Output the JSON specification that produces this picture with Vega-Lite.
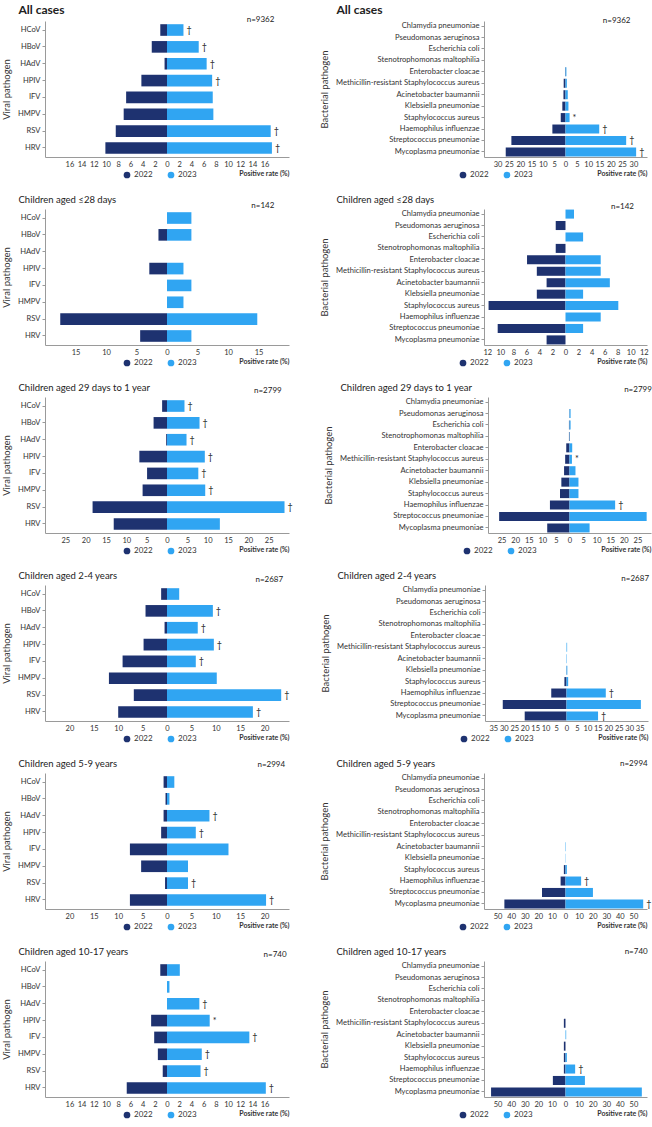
{
  "$schema": "https://vega.github.io/schema/vega-lite/v6.json",
  "background": "white",
  "padding": {"left": 1, "top": 4, "right": 0, "bottom": 0},
  "datasets": {
    "d": [
      {"p":"v1","g":"HCoV","year":"2022","rate":1.1},{"p":"v1","g":"HCoV","year":"2023","rate":2.7,"s":"†"},
      {"p":"v1","g":"HBoV","year":"2022","rate":2.5},{"p":"v1","g":"HBoV","year":"2023","rate":5.2,"s":"†"},
      {"p":"v1","g":"HAdV","year":"2022","rate":0.4},{"p":"v1","g":"HAdV","year":"2023","rate":6.5,"s":"†"},
      {"p":"v1","g":"HPIV","year":"2022","rate":4.2},{"p":"v1","g":"HPIV","year":"2023","rate":7.4,"s":"†"},
      {"p":"v1","g":"IFV","year":"2022","rate":6.7},{"p":"v1","g":"IFV","year":"2023","rate":7.5},
      {"p":"v1","g":"HMPV","year":"2022","rate":7.1},{"p":"v1","g":"HMPV","year":"2023","rate":7.6},
      {"p":"v1","g":"RSV","year":"2022","rate":8.4},{"p":"v1","g":"RSV","year":"2023","rate":17.0,"s":"†"},
      {"p":"v1","g":"HRV","year":"2022","rate":10.1},{"p":"v1","g":"HRV","year":"2023","rate":17.2,"s":"†"},

      {"p":"b1","g":"Enterobacter cloacae","year":"2022","rate":0.2},{"p":"b1","g":"Enterobacter cloacae","year":"2023","rate":0.4},
      {"p":"b1","g":"Methicillin-resistant Staphylococcus aureus","year":"2022","rate":0.8},{"p":"b1","g":"Methicillin-resistant Staphylococcus aureus","year":"2023","rate":0.6},
      {"p":"b1","g":"Acinetobacter baumannii","year":"2022","rate":0.9},{"p":"b1","g":"Acinetobacter baumannii","year":"2023","rate":1.0},
      {"p":"b1","g":"Klebsiella pneumoniae","year":"2022","rate":1.4},{"p":"b1","g":"Klebsiella pneumoniae","year":"2023","rate":1.3},
      {"p":"b1","g":"Staphylococcus aureus","year":"2022","rate":2.1},{"p":"b1","g":"Staphylococcus aureus","year":"2023","rate":1.8,"s":"*"},
      {"p":"b1","g":"Haemophilus influenzae","year":"2022","rate":5.8},{"p":"b1","g":"Haemophilus influenzae","year":"2023","rate":14.9,"s":"†"},
      {"p":"b1","g":"Streptococcus pneumoniae","year":"2022","rate":23.9},{"p":"b1","g":"Streptococcus pneumoniae","year":"2023","rate":26.8,"s":"†"},
      {"p":"b1","g":"Mycoplasma pneumoniae","year":"2022","rate":26.4},{"p":"b1","g":"Mycoplasma pneumoniae","year":"2023","rate":31.2,"s":"†"},

      {"p":"v2","g":"HCoV","year":"2023","rate":4.0},
      {"p":"v2","g":"HBoV","year":"2022","rate":1.4},{"p":"v2","g":"HBoV","year":"2023","rate":4.0},
      {"p":"v2","g":"HPIV","year":"2022","rate":2.9},{"p":"v2","g":"HPIV","year":"2023","rate":2.7},
      {"p":"v2","g":"IFV","year":"2023","rate":4.0},
      {"p":"v2","g":"HMPV","year":"2023","rate":2.7},
      {"p":"v2","g":"RSV","year":"2022","rate":17.5},{"p":"v2","g":"RSV","year":"2023","rate":14.8},
      {"p":"v2","g":"HRV","year":"2022","rate":4.4},{"p":"v2","g":"HRV","year":"2023","rate":4.0},

      {"p":"b2","g":"Chlamydia pneumoniae","year":"2023","rate":1.3},
      {"p":"b2","g":"Pseudomonas aeruginosa","year":"2022","rate":1.5},
      {"p":"b2","g":"Escherichia coli","year":"2023","rate":2.7},
      {"p":"b2","g":"Stenotrophomonas maltophilia","year":"2022","rate":1.5},
      {"p":"b2","g":"Enterobacter cloacae","year":"2022","rate":5.9},{"p":"b2","g":"Enterobacter cloacae","year":"2023","rate":5.4},
      {"p":"b2","g":"Methicillin-resistant Staphylococcus aureus","year":"2022","rate":4.4},{"p":"b2","g":"Methicillin-resistant Staphylococcus aureus","year":"2023","rate":5.4},
      {"p":"b2","g":"Acinetobacter baumannii","year":"2022","rate":2.9},{"p":"b2","g":"Acinetobacter baumannii","year":"2023","rate":6.8},
      {"p":"b2","g":"Klebsiella pneumoniae","year":"2022","rate":4.4},{"p":"b2","g":"Klebsiella pneumoniae","year":"2023","rate":2.7},
      {"p":"b2","g":"Staphylococcus aureus","year":"2022","rate":11.8},{"p":"b2","g":"Staphylococcus aureus","year":"2023","rate":8.1},
      {"p":"b2","g":"Haemophilus influenzae","year":"2023","rate":5.4},
      {"p":"b2","g":"Streptococcus pneumoniae","year":"2022","rate":10.4},{"p":"b2","g":"Streptococcus pneumoniae","year":"2023","rate":2.7},
      {"p":"b2","g":"Mycoplasma pneumoniae","year":"2022","rate":2.9},

      {"p":"v3","g":"HCoV","year":"2022","rate":1.2},{"p":"v3","g":"HCoV","year":"2023","rate":4.3,"s":"†"},
      {"p":"v3","g":"HBoV","year":"2022","rate":3.3},{"p":"v3","g":"HBoV","year":"2023","rate":8.0,"s":"†"},
      {"p":"v3","g":"HAdV","year":"2022","rate":0.2},{"p":"v3","g":"HAdV","year":"2023","rate":4.8,"s":"†"},
      {"p":"v3","g":"HPIV","year":"2022","rate":6.8},{"p":"v3","g":"HPIV","year":"2023","rate":9.3,"s":"†"},
      {"p":"v3","g":"IFV","year":"2022","rate":4.9},{"p":"v3","g":"IFV","year":"2023","rate":7.7,"s":"†"},
      {"p":"v3","g":"HMPV","year":"2022","rate":6.0},{"p":"v3","g":"HMPV","year":"2023","rate":9.4,"s":"†"},
      {"p":"v3","g":"RSV","year":"2022","rate":18.3},{"p":"v3","g":"RSV","year":"2023","rate":28.9,"s":"†"},
      {"p":"v3","g":"HRV","year":"2022","rate":13.1},{"p":"v3","g":"HRV","year":"2023","rate":13.0},

      {"p":"b3","g":"Pseudomonas aeruginosa","year":"2022","rate":0.1},{"p":"b3","g":"Pseudomonas aeruginosa","year":"2023","rate":0.4},
      {"p":"b3","g":"Escherichia coli","year":"2022","rate":0.2},{"p":"b3","g":"Escherichia coli","year":"2023","rate":0.4},
      {"p":"b3","g":"Stenotrophomonas maltophilia","year":"2022","rate":0.2},{"p":"b3","g":"Stenotrophomonas maltophilia","year":"2023","rate":0.1},
      {"p":"b3","g":"Enterobacter cloacae","year":"2022","rate":1.2},{"p":"b3","g":"Enterobacter cloacae","year":"2023","rate":1.0},
      {"p":"b3","g":"Methicillin-resistant Staphylococcus aureus","year":"2022","rate":1.6},{"p":"b3","g":"Methicillin-resistant Staphylococcus aureus","year":"2023","rate":0.9,"s":"*"},
      {"p":"b3","g":"Acinetobacter baumannii","year":"2022","rate":2.0},{"p":"b3","g":"Acinetobacter baumannii","year":"2023","rate":2.2},
      {"p":"b3","g":"Klebsiella pneumoniae","year":"2022","rate":3.0},{"p":"b3","g":"Klebsiella pneumoniae","year":"2023","rate":3.3},
      {"p":"b3","g":"Staphylococcus aureus","year":"2022","rate":3.5},{"p":"b3","g":"Staphylococcus aureus","year":"2023","rate":3.3},
      {"p":"b3","g":"Haemophilus influenzae","year":"2022","rate":7.2},{"p":"b3","g":"Haemophilus influenzae","year":"2023","rate":16.8,"s":"†"},
      {"p":"b3","g":"Streptococcus pneumoniae","year":"2022","rate":25.9},{"p":"b3","g":"Streptococcus pneumoniae","year":"2023","rate":28.4},
      {"p":"b3","g":"Mycoplasma pneumoniae","year":"2022","rate":8.2},{"p":"b3","g":"Mycoplasma pneumoniae","year":"2023","rate":7.4},

      {"p":"v4","g":"HCoV","year":"2022","rate":1.2},{"p":"v4","g":"HCoV","year":"2023","rate":2.5},
      {"p":"v4","g":"HBoV","year":"2022","rate":4.4},{"p":"v4","g":"HBoV","year":"2023","rate":9.4,"s":"†"},
      {"p":"v4","g":"HAdV","year":"2022","rate":0.5},{"p":"v4","g":"HAdV","year":"2023","rate":6.3,"s":"†"},
      {"p":"v4","g":"HPIV","year":"2022","rate":4.8},{"p":"v4","g":"HPIV","year":"2023","rate":9.6,"s":"†"},
      {"p":"v4","g":"IFV","year":"2022","rate":9.1},{"p":"v4","g":"IFV","year":"2023","rate":5.9,"s":"†"},
      {"p":"v4","g":"HMPV","year":"2022","rate":11.9},{"p":"v4","g":"HMPV","year":"2023","rate":10.2},
      {"p":"v4","g":"RSV","year":"2022","rate":6.8},{"p":"v4","g":"RSV","year":"2023","rate":23.4,"s":"†"},
      {"p":"v4","g":"HRV","year":"2022","rate":10.0},{"p":"v4","g":"HRV","year":"2023","rate":17.6,"s":"†"},

      {"p":"b4","g":"Methicillin-resistant Staphylococcus aureus","year":"2023","rate":0.3},
      {"p":"b4","g":"Acinetobacter baumannii","year":"2023","rate":0.2},
      {"p":"b4","g":"Klebsiella pneumoniae","year":"2022","rate":0.1},{"p":"b4","g":"Klebsiella pneumoniae","year":"2023","rate":0.4},
      {"p":"b4","g":"Staphylococcus aureus","year":"2022","rate":1.0},{"p":"b4","g":"Staphylococcus aureus","year":"2023","rate":0.8},
      {"p":"b4","g":"Haemophilus influenzae","year":"2022","rate":7.3},{"p":"b4","g":"Haemophilus influenzae","year":"2023","rate":18.8,"s":"†"},
      {"p":"b4","g":"Streptococcus pneumoniae","year":"2022","rate":30.5},{"p":"b4","g":"Streptococcus pneumoniae","year":"2023","rate":35.6},
      {"p":"b4","g":"Mycoplasma pneumoniae","year":"2022","rate":20.0},{"p":"b4","g":"Mycoplasma pneumoniae","year":"2023","rate":15.1,"s":"†"},

      {"p":"v5","g":"HCoV","year":"2022","rate":0.7},{"p":"v5","g":"HCoV","year":"2023","rate":1.5},
      {"p":"v5","g":"HBoV","year":"2022","rate":0.3},{"p":"v5","g":"HBoV","year":"2023","rate":0.5},
      {"p":"v5","g":"HAdV","year":"2022","rate":0.7},{"p":"v5","g":"HAdV","year":"2023","rate":8.7,"s":"†"},
      {"p":"v5","g":"HPIV","year":"2022","rate":1.2},{"p":"v5","g":"HPIV","year":"2023","rate":5.9,"s":"†"},
      {"p":"v5","g":"IFV","year":"2022","rate":7.6},{"p":"v5","g":"IFV","year":"2023","rate":12.6},
      {"p":"v5","g":"HMPV","year":"2022","rate":5.3},{"p":"v5","g":"HMPV","year":"2023","rate":4.3},
      {"p":"v5","g":"RSV","year":"2022","rate":0.4},{"p":"v5","g":"RSV","year":"2023","rate":4.3,"s":"†"},
      {"p":"v5","g":"HRV","year":"2022","rate":7.6},{"p":"v5","g":"HRV","year":"2023","rate":20.3,"s":"†"},

      {"p":"b5","g":"Acinetobacter baumannii","year":"2023","rate":0.3},
      {"p":"b5","g":"Klebsiella pneumoniae","year":"2023","rate":0.2},
      {"p":"b5","g":"Staphylococcus aureus","year":"2022","rate":1.2},{"p":"b5","g":"Staphylococcus aureus","year":"2023","rate":1.0},
      {"p":"b5","g":"Haemophilus influenzae","year":"2022","rate":3.6},{"p":"b5","g":"Haemophilus influenzae","year":"2023","rate":11.5,"s":"†"},
      {"p":"b5","g":"Streptococcus pneumoniae","year":"2022","rate":17.3},{"p":"b5","g":"Streptococcus pneumoniae","year":"2023","rate":20.2},
      {"p":"b5","g":"Mycoplasma pneumoniae","year":"2022","rate":45.0},{"p":"b5","g":"Mycoplasma pneumoniae","year":"2023","rate":57.2,"s":"†"},

      {"p":"v6","g":"HCoV","year":"2022","rate":1.1},{"p":"v6","g":"HCoV","year":"2023","rate":2.1},
      {"p":"v6","g":"HBoV","year":"2023","rate":0.4},
      {"p":"v6","g":"HAdV","year":"2023","rate":5.3,"s":"†"},
      {"p":"v6","g":"HPIV","year":"2022","rate":2.6},{"p":"v6","g":"HPIV","year":"2023","rate":7.0,"s":"*"},
      {"p":"v6","g":"IFV","year":"2022","rate":2.1},{"p":"v6","g":"IFV","year":"2023","rate":13.5,"s":"†"},
      {"p":"v6","g":"HMPV","year":"2022","rate":1.5},{"p":"v6","g":"HMPV","year":"2023","rate":5.7,"s":"†"},
      {"p":"v6","g":"RSV","year":"2022","rate":0.7},{"p":"v6","g":"RSV","year":"2023","rate":5.5,"s":"†"},
      {"p":"v6","g":"HRV","year":"2022","rate":6.6},{"p":"v6","g":"HRV","year":"2023","rate":16.2,"s":"†"},

      {"p":"b6","g":"Methicillin-resistant Staphylococcus aureus","year":"2022","rate":1.2},
      {"p":"b6","g":"Acinetobacter baumannii","year":"2023","rate":0.5},
      {"p":"b6","g":"Klebsiella pneumoniae","year":"2022","rate":1.2},
      {"p":"b6","g":"Staphylococcus aureus","year":"2022","rate":1.2},{"p":"b6","g":"Staphylococcus aureus","year":"2023","rate":1.0},
      {"p":"b6","g":"Haemophilus influenzae","year":"2022","rate":1.2},{"p":"b6","g":"Haemophilus influenzae","year":"2023","rate":7.1,"s":"†"},
      {"p":"b6","g":"Streptococcus pneumoniae","year":"2022","rate":9.3},{"p":"b6","g":"Streptococcus pneumoniae","year":"2023","rate":14.3},
      {"p":"b6","g":"Mycoplasma pneumoniae","year":"2022","rate":54.8},{"p":"b6","g":"Mycoplasma pneumoniae","year":"2023","rate":56.2}
    ],
    "ns": [
      {"p":"v1","n":"n=9362"},{"p":"b1","n":"n=9362"},
      {"p":"v2","n":"n=142"},{"p":"b2","n":"n=142"},
      {"p":"v3","n":"n=2799"},{"p":"b3","n":"n=2799"},
      {"p":"v4","n":"n=2687"},{"p":"b4","n":"n=2687"},
      {"p":"v5","n":"n=2994"},{"p":"b5","n":"n=2994"},
      {"p":"v6","n":"n=740"},{"p":"b6","n":"n=740"}
    ]
  },
  "data": {"name": "d"},
  "spacing": 16,
  "resolve": {"scale": {"color": "independent"}, "legend": {"color": "independent"}},
  "vconcat": [
    {"spacing": 30, "resolve": {"scale": {"color": "independent"}, "legend": {"color": "independent"}}, "hconcat": [
      {"width": 244, "height": 136, "title": {"text": "All cases", "fontSize": 12, "fontWeight": "bold", "offset": -1},
       "transform": [{"filter": "datum.p == 'v1'"}],
       "encoding": {"y": {"field": "g", "type": "nominal", "title": "Viral pathogen", "scale": {"domain": ["HCoV","HBoV","HAdV","HPIV","IFV","HMPV","RSV","HRV"], "paddingInner": 0.31, "paddingOuter": 0.19}}},
       "layer": [
         {"transform": [{"filter": "datum.year == '2022'"}], "mark": "bar", "encoding": {"x": {"field": "rate", "type": "quantitative", "scale": {"domain": [-20, 20], "reverse": true}, "axis": null}, "color": {"field": "year", "type": "nominal", "scale": {"domain": ["2022","2023"], "range": ["#1e3270","#30a5f2"]}, "legend": {"orient": "none", "legendX": 78, "legendY": 150, "direction": "horizontal", "title": null}}}},
         {"transform": [{"filter": "datum.year == '2023'"}], "mark": "bar", "encoding": {"x": {"field": "rate", "type": "quantitative", "scale": {"domain": [-20, 20]}, "axis": {"values": [-16,-14,-12,-10,-8,-6,-4,-2,0,2,4,6,8,10,12,14,16], "labelExpr": "abs(datum.value)", "title": "Positive rate (%)"}}, "color": {"field": "year", "type": "nominal", "scale": {"domain": ["2022","2023"], "range": ["#1e3270","#30a5f2"]}, "legend": {"orient": "none", "legendX": 78, "legendY": 150, "direction": "horizontal", "title": null}}}},
         {"transform": [{"filter": "datum.year == '2023' && datum.s"}], "mark": {"type": "text", "align": "left", "dx": 3, "fontSize": 9}, "encoding": {"x": {"field": "rate", "type": "quantitative", "scale": {"domain": [-20, 20]}, "axis": null}, "text": {"field": "s"}}},
         {"data": {"name": "ns"}, "transform": [{"filter": "datum.p == 'v1'"}], "mark": {"type": "text", "align": "right", "dy": -10, "fontSize": 8}, "encoding": {"x": {"datum": 17.6, "type": "quantitative", "scale": {"domain": [-20, 20]}, "axis": null}, "y": {"datum": "HCoV"}, "text": {"field": "n"}}}
       ],
       "resolve": {"scale": {"x": "independent"}}},
      {"width": 163, "height": 136, "title": {"text": "All cases", "fontSize": 12, "fontWeight": "bold", "offset": 0},
       "transform": [{"filter": "datum.p == 'b1'"}],
       "encoding": {"y": {"field": "g", "type": "nominal", "title": "Bacterial pathogen", "scale": {"domain": ["Chlamydia pneumoniae","Pseudomonas aeruginosa","Escherichia coli","Stenotrophomonas maltophilia","Enterobacter cloacae","Methicillin-resistant Staphylococcus aureus","Acinetobacter baumannii","Klebsiella pneumoniae","Staphylococcus aureus","Haemophilus influenzae","Streptococcus pneumoniae","Mycoplasma pneumoniae"], "paddingInner": 0.21, "paddingOuter": 0.05}}},
       "layer": [
         {"transform": [{"filter": "datum.year == '2022'"}], "mark": "bar", "encoding": {"x": {"field": "rate", "type": "quantitative", "scale": {"domain": [-36, 36], "reverse": true}, "axis": null}, "color": {"field": "year", "type": "nominal", "scale": {"domain": ["2022","2023"], "range": ["#1e3270","#30a5f2"]}, "legend": {"orient": "none", "legendX": -25, "legendY": 150, "direction": "horizontal", "title": null}}}},
         {"transform": [{"filter": "datum.year == '2023'"}], "mark": "bar", "encoding": {"x": {"field": "rate", "type": "quantitative", "scale": {"domain": [-36, 36]}, "axis": {"values": [-30,-25,-20,-15,-10,-5,0,5,10,15,20,25,30], "labelExpr": "abs(datum.value)", "title": "Positive rate (%)"}}, "color": {"field": "year", "type": "nominal", "scale": {"domain": ["2022","2023"], "range": ["#1e3270","#30a5f2"]}, "legend": {"orient": "none", "legendX": -25, "legendY": 150, "direction": "horizontal", "title": null}}}},
         {"transform": [{"filter": "datum.year == '2023' && datum.s"}], "mark": {"type": "text", "align": "left", "dx": 3, "fontSize": 9}, "encoding": {"x": {"field": "rate", "type": "quantitative", "scale": {"domain": [-36, 36]}, "axis": null}, "text": {"field": "s"}}},
         {"data": {"name": "ns"}, "transform": [{"filter": "datum.p == 'b1'"}], "mark": {"type": "text", "align": "right", "dy": -5, "fontSize": 8}, "encoding": {"x": {"datum": 28.7, "type": "quantitative", "scale": {"domain": [-36, 36]}, "axis": null}, "y": {"datum": "Chlamydia pneumoniae"}, "text": {"field": "n"}}}
       ],
       "resolve": {"scale": {"x": "independent"}}}
    ]},
    {"spacing": 30, "resolve": {"scale": {"color": "independent"}, "legend": {"color": "independent"}}, "hconcat": [
      {"width": 244, "height": 136, "title": {"text": "Children aged ≤28 days", "offset": -2.5},
       "transform": [{"filter": "datum.p == 'v2'"}],
       "encoding": {"y": {"field": "g", "type": "nominal", "title": "Viral pathogen", "scale": {"domain": ["HCoV","HBoV","HAdV","HPIV","IFV","HMPV","RSV","HRV"], "paddingInner": 0.31, "paddingOuter": 0.19}}},
       "layer": [
         {"transform": [{"filter": "datum.year == '2022'"}], "mark": "bar", "encoding": {"x": {"field": "rate", "type": "quantitative", "scale": {"domain": [-20, 20], "reverse": true}, "axis": null}, "color": {"field": "year", "type": "nominal", "scale": {"domain": ["2022","2023"], "range": ["#1e3270","#30a5f2"]}, "legend": {"orient": "none", "legendX": 78, "legendY": 150, "direction": "horizontal", "title": null}}}},
         {"transform": [{"filter": "datum.year == '2023'"}], "mark": "bar", "encoding": {"x": {"field": "rate", "type": "quantitative", "scale": {"domain": [-20, 20]}, "axis": {"values": [-15,-10,-5,0,5,10,15], "labelExpr": "abs(datum.value)", "title": "Positive rate (%)"}}, "color": {"field": "year", "type": "nominal", "scale": {"domain": ["2022","2023"], "range": ["#1e3270","#30a5f2"]}, "legend": {"orient": "none", "legendX": 78, "legendY": 150, "direction": "horizontal", "title": null}}}},
         {"transform": [{"filter": "datum.year == '2023' && datum.s"}], "mark": {"type": "text", "align": "left", "dx": 3, "fontSize": 9}, "encoding": {"x": {"field": "rate", "type": "quantitative", "scale": {"domain": [-20, 20]}, "axis": null}, "text": {"field": "s"}}},
         {"data": {"name": "ns"}, "transform": [{"filter": "datum.p == 'v2'"}], "mark": {"type": "text", "align": "right", "dy": -12, "fontSize": 8}, "encoding": {"x": {"datum": 17.6, "type": "quantitative", "scale": {"domain": [-20, 20]}, "axis": null}, "y": {"datum": "HCoV"}, "text": {"field": "n"}}}
       ],
       "resolve": {"scale": {"x": "independent"}}},
      {"width": 163, "height": 136, "title": {"text": "Children aged ≤28 days", "offset": -1.5},
       "transform": [{"filter": "datum.p == 'b2'"}],
       "encoding": {"y": {"field": "g", "type": "nominal", "title": "Bacterial pathogen", "scale": {"domain": ["Chlamydia pneumoniae","Pseudomonas aeruginosa","Escherichia coli","Stenotrophomonas maltophilia","Enterobacter cloacae","Methicillin-resistant Staphylococcus aureus","Acinetobacter baumannii","Klebsiella pneumoniae","Staphylococcus aureus","Haemophilus influenzae","Streptococcus pneumoniae","Mycoplasma pneumoniae"], "paddingInner": 0.21, "paddingOuter": 0.05}}},
       "layer": [
         {"transform": [{"filter": "datum.year == '2022'"}], "mark": "bar", "encoding": {"x": {"field": "rate", "type": "quantitative", "scale": {"domain": [-12.5, 12.5], "reverse": true}, "axis": null}, "color": {"field": "year", "type": "nominal", "scale": {"domain": ["2022","2023"], "range": ["#1e3270","#30a5f2"]}, "legend": {"orient": "none", "legendX": -25, "legendY": 150, "direction": "horizontal", "title": null}}}},
         {"transform": [{"filter": "datum.year == '2023'"}], "mark": "bar", "encoding": {"x": {"field": "rate", "type": "quantitative", "scale": {"domain": [-12.5, 12.5]}, "axis": {"values": [-12,-10,-8,-6,-4,-2,0,2,4,6,8,10,12], "labelExpr": "abs(datum.value)", "title": "Positive rate (%)"}}, "color": {"field": "year", "type": "nominal", "scale": {"domain": ["2022","2023"], "range": ["#1e3270","#30a5f2"]}, "legend": {"orient": "none", "legendX": -25, "legendY": 150, "direction": "horizontal", "title": null}}}},
         {"transform": [{"filter": "datum.year == '2023' && datum.s"}], "mark": {"type": "text", "align": "left", "dx": 3, "fontSize": 9}, "encoding": {"x": {"field": "rate", "type": "quantitative", "scale": {"domain": [-12.5, 12.5]}, "axis": null}, "text": {"field": "s"}}},
         {"data": {"name": "ns"}, "transform": [{"filter": "datum.p == 'b2'"}], "mark": {"type": "text", "align": "right", "dy": -7, "fontSize": 8}, "encoding": {"x": {"datum": 10.5, "type": "quantitative", "scale": {"domain": [-12.5, 12.5]}, "axis": null}, "y": {"datum": "Chlamydia pneumoniae"}, "text": {"field": "n"}}}
       ],
       "resolve": {"scale": {"x": "independent"}}}
    ]},
    {"spacing": 30, "resolve": {"scale": {"color": "independent"}, "legend": {"color": "independent"}}, "hconcat": [
      {"width": 244, "height": 136, "title": {"text": "Children aged 29 days to 1 year", "offset": -5.5},
       "transform": [{"filter": "datum.p == 'v3'"}],
       "encoding": {"y": {"field": "g", "type": "nominal", "title": "Viral pathogen", "scale": {"domain": ["HCoV","HBoV","HAdV","HPIV","IFV","HMPV","RSV","HRV"], "paddingInner": 0.31, "paddingOuter": 0.19}}},
       "layer": [
         {"transform": [{"filter": "datum.year == '2022'"}], "mark": "bar", "encoding": {"x": {"field": "rate", "type": "quantitative", "scale": {"domain": [-30, 30], "reverse": true}, "axis": null}, "color": {"field": "year", "type": "nominal", "scale": {"domain": ["2022","2023"], "range": ["#1e3270","#30a5f2"]}, "legend": {"orient": "none", "legendX": 78, "legendY": 150, "direction": "horizontal", "title": null}}}},
         {"transform": [{"filter": "datum.year == '2023'"}], "mark": "bar", "encoding": {"x": {"field": "rate", "type": "quantitative", "scale": {"domain": [-30, 30]}, "axis": {"values": [-25,-20,-15,-10,-5,0,5,10,15,20,25], "labelExpr": "abs(datum.value)", "title": "Positive rate (%)"}}, "color": {"field": "year", "type": "nominal", "scale": {"domain": ["2022","2023"], "range": ["#1e3270","#30a5f2"]}, "legend": {"orient": "none", "legendX": 78, "legendY": 150, "direction": "horizontal", "title": null}}}},
         {"transform": [{"filter": "datum.year == '2023' && datum.s"}], "mark": {"type": "text", "align": "left", "dx": 3, "fontSize": 9}, "encoding": {"x": {"field": "rate", "type": "quantitative", "scale": {"domain": [-30, 30]}, "axis": null}, "text": {"field": "s"}}},
         {"data": {"name": "ns"}, "transform": [{"filter": "datum.p == 'v3'"}], "mark": {"type": "text", "align": "right", "dy": -15, "fontSize": 8}, "encoding": {"x": {"datum": 28.2, "type": "quantitative", "scale": {"domain": [-30, 30]}, "axis": null}, "y": {"datum": "HCoV"}, "text": {"field": "n"}}}
       ],
       "resolve": {"scale": {"x": "independent"}}},
      {"width": 163, "height": 136, "title": {"text": "Children aged 29 days to 1 year", "offset": -6.5},
       "transform": [{"filter": "datum.p == 'b3'"}],
       "encoding": {"y": {"field": "g", "type": "nominal", "title": "Bacterial pathogen", "scale": {"domain": ["Chlamydia pneumoniae","Pseudomonas aeruginosa","Escherichia coli","Stenotrophomonas maltophilia","Enterobacter cloacae","Methicillin-resistant Staphylococcus aureus","Acinetobacter baumannii","Klebsiella pneumoniae","Staphylococcus aureus","Haemophilus influenzae","Streptococcus pneumoniae","Mycoplasma pneumoniae"], "paddingInner": 0.21, "paddingOuter": 0.05}}},
       "layer": [
         {"transform": [{"filter": "datum.year == '2022'"}], "mark": "bar", "encoding": {"x": {"field": "rate", "type": "quantitative", "scale": {"domain": [-30, 30], "reverse": true}, "axis": null}, "color": {"field": "year", "type": "nominal", "scale": {"domain": ["2022","2023"], "range": ["#1e3270","#30a5f2"]}, "legend": {"orient": "none", "legendX": -25, "legendY": 150, "direction": "horizontal", "title": null}}}},
         {"transform": [{"filter": "datum.year == '2023'"}], "mark": "bar", "encoding": {"x": {"field": "rate", "type": "quantitative", "scale": {"domain": [-30, 30]}, "axis": {"values": [-25,-20,-15,-10,-5,0,5,10,15,20,25], "labelExpr": "abs(datum.value)", "title": "Positive rate (%)"}}, "color": {"field": "year", "type": "nominal", "scale": {"domain": ["2022","2023"], "range": ["#1e3270","#30a5f2"]}, "legend": {"orient": "none", "legendX": -25, "legendY": 150, "direction": "horizontal", "title": null}}}},
         {"transform": [{"filter": "datum.year == '2023' && datum.s"}], "mark": {"type": "text", "align": "left", "dx": 3, "fontSize": 9}, "encoding": {"x": {"field": "rate", "type": "quantitative", "scale": {"domain": [-30, 30]}, "axis": null}, "text": {"field": "s"}}},
         {"data": {"name": "ns"}, "transform": [{"filter": "datum.p == 'b3'"}], "mark": {"type": "text", "align": "right", "dy": -12, "fontSize": 8}, "encoding": {"x": {"datum": 30.3, "type": "quantitative", "scale": {"domain": [-30, 30]}, "axis": null}, "y": {"datum": "Chlamydia pneumoniae"}, "text": {"field": "n"}}}
       ],
       "resolve": {"scale": {"x": "independent"}}}
    ]},
    {"spacing": 30, "resolve": {"scale": {"color": "independent"}, "legend": {"color": "independent"}}, "hconcat": [
      {"width": 244, "height": 136, "title": {"text": "Children aged 2-4 years", "offset": -4.5},
       "transform": [{"filter": "datum.p == 'v4'"}],
       "encoding": {"y": {"field": "g", "type": "nominal", "title": "Viral pathogen", "scale": {"domain": ["HCoV","HBoV","HAdV","HPIV","IFV","HMPV","RSV","HRV"], "paddingInner": 0.31, "paddingOuter": 0.19}}},
       "layer": [
         {"transform": [{"filter": "datum.year == '2022'"}], "mark": "bar", "encoding": {"x": {"field": "rate", "type": "quantitative", "scale": {"domain": [-25, 25], "reverse": true}, "axis": null}, "color": {"field": "year", "type": "nominal", "scale": {"domain": ["2022","2023"], "range": ["#1e3270","#30a5f2"]}, "legend": {"orient": "none", "legendX": 78, "legendY": 150, "direction": "horizontal", "title": null}}}},
         {"transform": [{"filter": "datum.year == '2023'"}], "mark": "bar", "encoding": {"x": {"field": "rate", "type": "quantitative", "scale": {"domain": [-25, 25]}, "axis": {"values": [-20,-15,-10,-5,0,5,10,15,20], "labelExpr": "abs(datum.value)", "title": "Positive rate (%)"}}, "color": {"field": "year", "type": "nominal", "scale": {"domain": ["2022","2023"], "range": ["#1e3270","#30a5f2"]}, "legend": {"orient": "none", "legendX": 78, "legendY": 150, "direction": "horizontal", "title": null}}}},
         {"transform": [{"filter": "datum.year == '2023' && datum.s"}], "mark": {"type": "text", "align": "left", "dx": 3, "fontSize": 9}, "encoding": {"x": {"field": "rate", "type": "quantitative", "scale": {"domain": [-25, 25]}, "axis": null}, "text": {"field": "s"}}},
         {"data": {"name": "ns"}, "transform": [{"filter": "datum.p == 'v4'"}], "mark": {"type": "text", "align": "right", "dy": -14, "fontSize": 8}, "encoding": {"x": {"datum": 23.8, "type": "quantitative", "scale": {"domain": [-25, 25]}, "axis": null}, "y": {"datum": "HCoV"}, "text": {"field": "n"}}}
       ],
       "resolve": {"scale": {"x": "independent"}}},
      {"width": 163, "height": 136, "title": {"text": "Children aged 2-4 years", "offset": -5.5},
       "transform": [{"filter": "datum.p == 'b4'"}],
       "encoding": {"y": {"field": "g", "type": "nominal", "title": "Bacterial pathogen", "scale": {"domain": ["Chlamydia pneumoniae","Pseudomonas aeruginosa","Escherichia coli","Stenotrophomonas maltophilia","Enterobacter cloacae","Methicillin-resistant Staphylococcus aureus","Acinetobacter baumannii","Klebsiella pneumoniae","Staphylococcus aureus","Haemophilus influenzae","Streptococcus pneumoniae","Mycoplasma pneumoniae"], "paddingInner": 0.21, "paddingOuter": 0.05}}},
       "layer": [
         {"transform": [{"filter": "datum.year == '2022'"}], "mark": "bar", "encoding": {"x": {"field": "rate", "type": "quantitative", "scale": {"domain": [-39, 39], "reverse": true}, "axis": null}, "color": {"field": "year", "type": "nominal", "scale": {"domain": ["2022","2023"], "range": ["#1e3270","#30a5f2"]}, "legend": {"orient": "none", "legendX": -25, "legendY": 150, "direction": "horizontal", "title": null}}}},
         {"transform": [{"filter": "datum.year == '2023'"}], "mark": "bar", "encoding": {"x": {"field": "rate", "type": "quantitative", "scale": {"domain": [-39, 39]}, "axis": {"values": [-35,-30,-25,-20,-15,-10,-5,0,5,10,15,20,25,30,35], "labelExpr": "abs(datum.value)", "title": "Positive rate (%)"}}, "color": {"field": "year", "type": "nominal", "scale": {"domain": ["2022","2023"], "range": ["#1e3270","#30a5f2"]}, "legend": {"orient": "none", "legendX": -25, "legendY": 150, "direction": "horizontal", "title": null}}}},
         {"transform": [{"filter": "datum.year == '2023' && datum.s"}], "mark": {"type": "text", "align": "left", "dx": 3, "fontSize": 9}, "encoding": {"x": {"field": "rate", "type": "quantitative", "scale": {"domain": [-39, 39]}, "axis": null}, "text": {"field": "s"}}},
         {"data": {"name": "ns"}, "transform": [{"filter": "datum.p == 'b4'"}], "mark": {"type": "text", "align": "right", "dy": -11, "fontSize": 8}, "encoding": {"x": {"datum": 39.5, "type": "quantitative", "scale": {"domain": [-39, 39]}, "axis": null}, "y": {"datum": "Chlamydia pneumoniae"}, "text": {"field": "n"}}}
       ],
       "resolve": {"scale": {"x": "independent"}}}
    ]},
    {"spacing": 30, "resolve": {"scale": {"color": "independent"}, "legend": {"color": "independent"}}, "hconcat": [
      {"width": 244, "height": 136, "title": {"text": "Children aged 5-9 years", "offset": -7.5},
       "transform": [{"filter": "datum.p == 'v5'"}],
       "encoding": {"y": {"field": "g", "type": "nominal", "title": "Viral pathogen", "scale": {"domain": ["HCoV","HBoV","HAdV","HPIV","IFV","HMPV","RSV","HRV"], "paddingInner": 0.31, "paddingOuter": 0.19}}},
       "layer": [
         {"transform": [{"filter": "datum.year == '2022'"}], "mark": "bar", "encoding": {"x": {"field": "rate", "type": "quantitative", "scale": {"domain": [-25, 25], "reverse": true}, "axis": null}, "color": {"field": "year", "type": "nominal", "scale": {"domain": ["2022","2023"], "range": ["#1e3270","#30a5f2"]}, "legend": {"orient": "none", "legendX": 78, "legendY": 150, "direction": "horizontal", "title": null}}}},
         {"transform": [{"filter": "datum.year == '2023'"}], "mark": "bar", "encoding": {"x": {"field": "rate", "type": "quantitative", "scale": {"domain": [-25, 25]}, "axis": {"values": [-20,-15,-10,-5,0,5,10,15,20], "labelExpr": "abs(datum.value)", "title": "Positive rate (%)"}}, "color": {"field": "year", "type": "nominal", "scale": {"domain": ["2022","2023"], "range": ["#1e3270","#30a5f2"]}, "legend": {"orient": "none", "legendX": 78, "legendY": 150, "direction": "horizontal", "title": null}}}},
         {"transform": [{"filter": "datum.year == '2023' && datum.s"}], "mark": {"type": "text", "align": "left", "dx": 3, "fontSize": 9}, "encoding": {"x": {"field": "rate", "type": "quantitative", "scale": {"domain": [-25, 25]}, "axis": null}, "text": {"field": "s"}}},
         {"data": {"name": "ns"}, "transform": [{"filter": "datum.p == 'v5'"}], "mark": {"type": "text", "align": "right", "dy": -17, "fontSize": 8}, "encoding": {"x": {"datum": 24.2, "type": "quantitative", "scale": {"domain": [-25, 25]}, "axis": null}, "y": {"datum": "HCoV"}, "text": {"field": "n"}}}
       ],
       "resolve": {"scale": {"x": "independent"}}},
      {"width": 163, "height": 136, "title": {"text": "Children aged 5-9 years", "offset": -8.5},
       "transform": [{"filter": "datum.p == 'b5'"}],
       "encoding": {"y": {"field": "g", "type": "nominal", "title": "Bacterial pathogen", "scale": {"domain": ["Chlamydia pneumoniae","Pseudomonas aeruginosa","Escherichia coli","Stenotrophomonas maltophilia","Enterobacter cloacae","Methicillin-resistant Staphylococcus aureus","Acinetobacter baumannii","Klebsiella pneumoniae","Staphylococcus aureus","Haemophilus influenzae","Streptococcus pneumoniae","Mycoplasma pneumoniae"], "paddingInner": 0.21, "paddingOuter": 0.05}}},
       "layer": [
         {"transform": [{"filter": "datum.year == '2022'"}], "mark": "bar", "encoding": {"x": {"field": "rate", "type": "quantitative", "scale": {"domain": [-60, 60], "reverse": true}, "axis": null}, "color": {"field": "year", "type": "nominal", "scale": {"domain": ["2022","2023"], "range": ["#1e3270","#30a5f2"]}, "legend": {"orient": "none", "legendX": -25, "legendY": 150, "direction": "horizontal", "title": null}}}},
         {"transform": [{"filter": "datum.year == '2023'"}], "mark": "bar", "encoding": {"x": {"field": "rate", "type": "quantitative", "scale": {"domain": [-60, 60]}, "axis": {"values": [-50,-40,-30,-20,-10,0,10,20,30,40,50], "labelExpr": "abs(datum.value)", "title": "Positive rate (%)"}}, "color": {"field": "year", "type": "nominal", "scale": {"domain": ["2022","2023"], "range": ["#1e3270","#30a5f2"]}, "legend": {"orient": "none", "legendX": -25, "legendY": 150, "direction": "horizontal", "title": null}}}},
         {"transform": [{"filter": "datum.year == '2023' && datum.s"}], "mark": {"type": "text", "align": "left", "dx": 3, "fontSize": 9}, "encoding": {"x": {"field": "rate", "type": "quantitative", "scale": {"domain": [-60, 60]}, "axis": null}, "text": {"field": "s"}}},
         {"data": {"name": "ns"}, "transform": [{"filter": "datum.p == 'b5'"}], "mark": {"type": "text", "align": "right", "dy": -14, "fontSize": 8}, "encoding": {"x": {"datum": 60.5, "type": "quantitative", "scale": {"domain": [-60, 60]}, "axis": null}, "y": {"datum": "Chlamydia pneumoniae"}, "text": {"field": "n"}}}
       ],
       "resolve": {"scale": {"x": "independent"}}}
    ]},
    {"spacing": 30, "resolve": {"scale": {"color": "independent"}, "legend": {"color": "independent"}}, "hconcat": [
      {"width": 244, "height": 136, "title": {"text": "Children aged 10-17 years", "offset": -5.5},
       "transform": [{"filter": "datum.p == 'v6'"}],
       "encoding": {"y": {"field": "g", "type": "nominal", "title": "Viral pathogen", "scale": {"domain": ["HCoV","HBoV","HAdV","HPIV","IFV","HMPV","RSV","HRV"], "paddingInner": 0.31, "paddingOuter": 0.19}}},
       "layer": [
         {"transform": [{"filter": "datum.year == '2022'"}], "mark": "bar", "encoding": {"x": {"field": "rate", "type": "quantitative", "scale": {"domain": [-20, 20], "reverse": true}, "axis": null}, "color": {"field": "year", "type": "nominal", "scale": {"domain": ["2022","2023"], "range": ["#1e3270","#30a5f2"]}, "legend": {"orient": "none", "legendX": 78, "legendY": 150, "direction": "horizontal", "title": null}}}},
         {"transform": [{"filter": "datum.year == '2023'"}], "mark": "bar", "encoding": {"x": {"field": "rate", "type": "quantitative", "scale": {"domain": [-20, 20]}, "axis": {"values": [-16,-14,-12,-10,-8,-6,-4,-2,0,2,4,6,8,10,12,14,16], "labelExpr": "abs(datum.value)", "title": "Positive rate (%)"}}, "color": {"field": "year", "type": "nominal", "scale": {"domain": ["2022","2023"], "range": ["#1e3270","#30a5f2"]}, "legend": {"orient": "none", "legendX": 78, "legendY": 150, "direction": "horizontal", "title": null}}}},
         {"transform": [{"filter": "datum.year == '2023' && datum.s"}], "mark": {"type": "text", "align": "left", "dx": 3, "fontSize": 9}, "encoding": {"x": {"field": "rate", "type": "quantitative", "scale": {"domain": [-20, 20]}, "axis": null}, "text": {"field": "s"}}},
         {"data": {"name": "ns"}, "transform": [{"filter": "datum.p == 'v6'"}], "mark": {"type": "text", "align": "right", "dy": -15, "fontSize": 8}, "encoding": {"x": {"datum": 19.6, "type": "quantitative", "scale": {"domain": [-20, 20]}, "axis": null}, "y": {"datum": "HCoV"}, "text": {"field": "n"}}}
       ],
       "resolve": {"scale": {"x": "independent"}}},
      {"width": 163, "height": 136, "title": {"text": "Children aged 10-17 years", "offset": -8.5},
       "transform": [{"filter": "datum.p == 'b6'"}],
       "encoding": {"y": {"field": "g", "type": "nominal", "title": "Bacterial pathogen", "scale": {"domain": ["Chlamydia pneumoniae","Pseudomonas aeruginosa","Escherichia coli","Stenotrophomonas maltophilia","Enterobacter cloacae","Methicillin-resistant Staphylococcus aureus","Acinetobacter baumannii","Klebsiella pneumoniae","Staphylococcus aureus","Haemophilus influenzae","Streptococcus pneumoniae","Mycoplasma pneumoniae"], "paddingInner": 0.21, "paddingOuter": 0.05}}},
       "layer": [
         {"transform": [{"filter": "datum.year == '2022'"}], "mark": "bar", "encoding": {"x": {"field": "rate", "type": "quantitative", "scale": {"domain": [-60, 60], "reverse": true}, "axis": null}, "color": {"field": "year", "type": "nominal", "scale": {"domain": ["2022","2023"], "range": ["#1e3270","#30a5f2"]}, "legend": {"orient": "none", "legendX": -25, "legendY": 150, "direction": "horizontal", "title": null}}}},
         {"transform": [{"filter": "datum.year == '2023'"}], "mark": "bar", "encoding": {"x": {"field": "rate", "type": "quantitative", "scale": {"domain": [-60, 60]}, "axis": {"values": [-50,-40,-30,-20,-10,0,10,20,30,40,50], "labelExpr": "abs(datum.value)", "title": "Positive rate (%)"}}, "color": {"field": "year", "type": "nominal", "scale": {"domain": ["2022","2023"], "range": ["#1e3270","#30a5f2"]}, "legend": {"orient": "none", "legendX": -25, "legendY": 150, "direction": "horizontal", "title": null}}}},
         {"transform": [{"filter": "datum.year == '2023' && datum.s"}], "mark": {"type": "text", "align": "left", "dx": 3, "fontSize": 9}, "encoding": {"x": {"field": "rate", "type": "quantitative", "scale": {"domain": [-60, 60]}, "axis": null}, "text": {"field": "s"}}},
         {"data": {"name": "ns"}, "transform": [{"filter": "datum.p == 'b6'"}], "mark": {"type": "text", "align": "right", "dy": -14, "fontSize": 8}, "encoding": {"x": {"datum": 60.5, "type": "quantitative", "scale": {"domain": [-60, 60]}, "axis": null}, "y": {"datum": "Chlamydia pneumoniae"}, "text": {"field": "n"}}}
       ],
       "resolve": {"scale": {"x": "independent"}}}
    ]}
  ],
  "config": {
    "font": "Lato",
    "view": {"stroke": null},
    "title": {"anchor": "start", "frame": "bounds", "fontSize": 9.5, "fontWeight": "normal", "color": "#222", "dx": 17},
    "axis": {"grid": false, "labelFontSize": 7.5, "labelColor": "#333", "domainColor": "#9a9a9a", "tickColor": "#9a9a9a", "titleColor": "#333"},
    "axisX": {"ticks": false, "labelPadding": 3, "labelOverlap": false, "labelFlush": false, "titleFontSize": 7, "titleFontWeight": "bold", "titleAnchor": "end", "titlePadding": 2},
    "axisY": {"tickSize": 3, "labelFontSize": 7.6, "labelLimit": 300, "labelPadding": 2, "titleFontSize": 9.5, "titleFontWeight": "normal", "titlePadding": 6},
    "legend": {"symbolType": "circle", "symbolSize": 45, "symbolStrokeWidth": 0, "labelFontSize": 8, "labelColor": "#333", "columnPadding": 14, "labelOffset": 3},
    "text": {"color": "#222"}
  }
}
